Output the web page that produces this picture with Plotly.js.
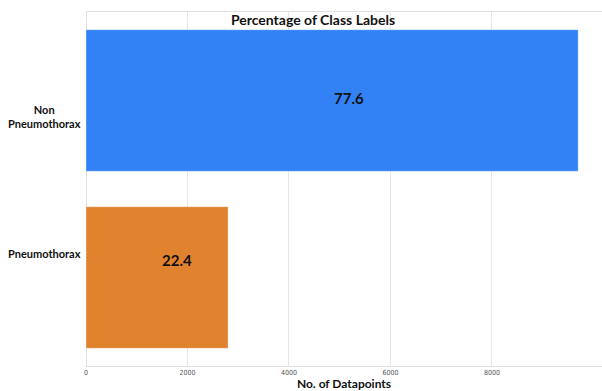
<!DOCTYPE html>
<html>
<head>
<meta charset="utf-8">
<script src="https://cdn.plot.ly/plotly-3.0.1.min.js"></script>
<style>html,body{margin:0;padding:0;background:#fff;}#chart{width:602px;height:391px;}</style>
</head>
<body>
<div id="chart"></div>
<script>
const categories = ['Pneumothorax', 'Non Pneumothorax'];
const tickLabels = ['Pneumothorax', 'Non<br>Pneumothorax'];
const counts = [2800, 9700];
const percentages = ['22.4', '77.6'];
const barColors = ['#E1822F', '#3282F6'];
const xTicks = [0, 2000, 4000, 6000, 8000];

const labelShift = [24, -16];
const textShiftX = [20, 17];
const textShiftY = [18, 3];

const trace = {
  type: 'bar',
  orientation: 'h',
  y: categories,
  x: counts,
  width: 0.8,
  marker: {color: barColors, line: {color: 'rgba(255,255,255,0.35)', width: 1}},
  hoverinfo: 'none'
};

const annotations = [];
categories.forEach((c, i) => {
  annotations.push({
    xref: 'paper', yref: 'y', x: 0, y: c, xanchor: 'right', yanchor: 'middle',
    xshift: -3, yshift: labelShift[i], showarrow: false, align: 'center',
    text: '<b>' + tickLabels[i] + '</b>',
    font: {family: 'Lato, "Open Sans", sans-serif', size: 11, color: '#111'}
  });
  annotations.push({
    xref: 'x', yref: 'y', x: counts[i] / 2, y: c, xanchor: 'center', yanchor: 'middle',
    xshift: textShiftX[i], yshift: textShiftY[i], showarrow: false,
    text: '<b>' + percentages[i] + '</b>',
    font: {family: 'Lato, "Open Sans", sans-serif', size: 15, color: '#111'}
  });
});

const layout = {
  width: 602, height: 391,
  margin: {l: 86, r: 0, t: 12, b: 25, pad: 0},
  paper_bgcolor: '#fff', plot_bgcolor: '#fff',
  showlegend: false,
  title: {
    text: '<b>Percentage of Class Labels</b>',
    font: {family: 'Lato, "Open Sans", sans-serif', size: 14, color: '#111'},
    x: 313 / 602, xanchor: 'center', y: 1 - 20 / 391, yanchor: 'middle'
  },
  xaxis: {
    range: [0, 10170],
    tickvals: xTicks,
    ticktext: xTicks.map(String),
    showgrid: true, gridcolor: '#e6e6e6', gridwidth: 1,
    zeroline: true, zerolinecolor: '#e0e0e0', zerolinewidth: 1,
    showline: true, linecolor: '#e0e0e0', linewidth: 1, mirror: true,
    ticks: '', tickfont: {family: '"Liberation Sans Narrow", "DejaVu Sans Condensed", sans-serif', size: 7, color: '#555555'},
    title: {text: '<b>No. of Datapoints</b>', font: {family: 'Lato, "Open Sans", sans-serif', size: 12, color: '#111'}, standoff: 4},
    fixedrange: true
  },
  yaxis: {
    type: 'category',
    categoryorder: 'array', categoryarray: categories,
    range: [-0.5, 1.5],
    showticklabels: false, ticks: '',
    showgrid: false, zeroline: false, showline: false,
    fixedrange: true
  },
  annotations: annotations
};

Plotly.newPlot('chart', [trace], layout, {displayModeBar: false, staticPlot: true});
</script>
</body>
</html>
